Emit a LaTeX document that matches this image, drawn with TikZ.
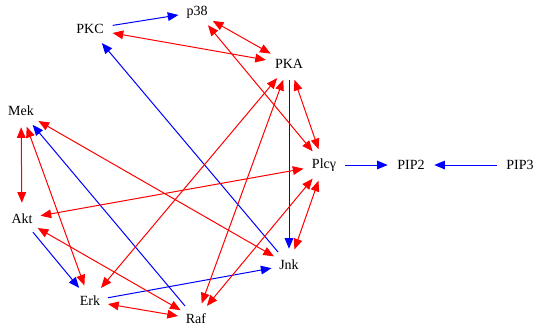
\documentclass[tikz,border=0pt]{standalone}
\usepackage{fontspec}
\setmainfont{Liberation Serif}
\usetikzlibrary{arrows.meta,shapes.geometric}
\definecolor{gred}{RGB}{255,0,0}
\definecolor{gblue}{RGB}{0,0,255}
\tikzset{
  gnode/.style={ellipse, draw=none, inner sep=2pt, minimum height=24pt, font=\fontsize{10.5}{12}\selectfont},
  act/.style={color=gblue, line width=0.75pt, -{Triangle[length=8pt,width=6.5pt]}},
  both/.style={color=gred, line width=0.75pt, {Triangle[length=8pt,width=6.5pt]}-{Triangle[length=8pt,width=6.5pt]}}
}
\begin{document}
\begin{tikzpicture}[x=0.75pt,y=-0.75pt]
\useasboundingbox (0,0) rectangle (534,326);
\node[gnode] (PKC) at (90,29) {PKC};
\node[gnode] (p38) at (197,12) {p38};
\node[gnode] (PKA) at (289,64) {PKA};
\node[gnode] (Mek) at (21,111) {Mek};
\node[gnode] (Plc) at (324,165) {Plcγ};
\node[gnode] (PIP2) at (411,165) {PIP2};
\node[gnode] (PIP3) at (520,165) {PIP3};
\node[gnode] (Akt) at (22,219) {Akt};
\node[gnode] (Jnk) at (289,265) {Jnk};
\node[gnode] (Erk) at (90,301) {Erk};
\node[gnode] (Raf) at (196,319) {Raf};
% blue activations
\draw[act] (PKC) -- (p38);
\draw[act] (Jnk) -- (PKC);
\draw[act] (PKA) -- (Jnk);
\draw[act] (Plc) -- (PIP2);
\draw[act] (PIP3) -- (PIP2);
\draw[act] (Raf) -- (Mek);
\draw[act] (Akt) -- (Erk);
\draw[act] (Erk) -- (Jnk);
% red bidirectional
\draw[both] (PKC) -- (PKA);
\draw[both] (p38) -- (PKA);
\draw[both] (p38) -- (Plc);
\draw[both] (PKA) -- (Plc);
\draw[both] (PKA) -- (Erk);
\draw[both] (PKA) -- (Raf);
\draw[both] (Plc) -- (Raf);
\draw[both] (Plc) -- (Jnk);
\draw[both] (Akt) -- (Plc);
\draw[both] (Mek) -- (Akt);
\draw[both] (Mek) -- (Erk);
\draw[both] (Mek) -- (Jnk);
\draw[both] (Akt) -- (Raf);
\draw[both] (Erk) -- (Raf);
\end{tikzpicture}
\end{document}
